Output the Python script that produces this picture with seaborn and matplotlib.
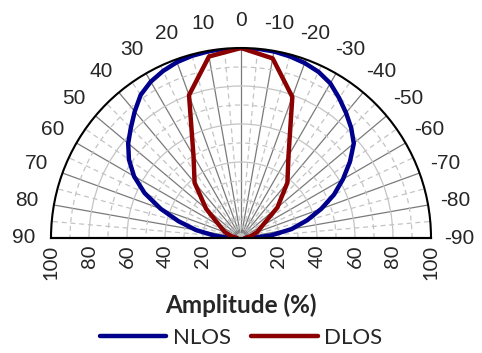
import numpy as np
import matplotlib
matplotlib.use("Agg")
import matplotlib.pyplot as plt
import seaborn as sns
from matplotlib.ticker import FixedLocator
from matplotlib.lines import Line2D

# angle in degrees (positive = left of vertical), amplitude in %
nlos_angle = [90, 85, 80, 75, 70, 65, 60, 55, 50, 45, 40, 35, 30, 25, 20, 15, 10, 5, 0,
              -5, -10, -15, -20, -25, -30, -35, -40, -45, -50, -55, -60, -65, -70, -75, -80, -85, -90]
nlos_amp = [6, 14, 24, 34, 45, 56, 65, 72, 77.5, 82, 87, 92, 95, 97, 98.5, 99.3, 99.7, 100, 100,
            100, 99.7, 99, 98, 96.5, 94, 90, 86, 82, 77.5, 70, 62, 54, 45, 36, 27, 16, 6]

dlos_angle = [90, 80, 70, 60, 50, 40, 30, 20, 10, 0, -10, -20, -30, -40, -50, -60, -70, -80, -90]
dlos_amp = [2, 5, 9, 13, 24, 38, 50, 80, 97, 100, 96, 79, 50, 38, 25, 13, 9, 5, 2]

theta_ticks = list(range(-90, 91, 10))
theta_labels = [str(t) for t in theta_ticks]
amp_ticks = list(range(-100, 101, 20))
amp_labels = [str(abs(v)) for v in amp_ticks]

sns.set_style("white")
plt.rcParams["font.family"] = ["Liberation Sans", "DejaVu Sans"]

W, H = 482, 353
cx, cy, R = 241, 238, 190  # pixel centre and radius of the half disc

fig = plt.figure(figsize=(W / 100, H / 100), dpi=100)
# polar axes keeps a square box; the half disc sits in its middle
ax = fig.add_axes([(cx - R) / W, (H - (cy - R / 2) - R) / H, 2 * R / W, 2 * R / H],
                  projection="polar")
ax.set_theta_zero_location("N")
ax.set_theta_direction(1)
ax.set_thetamin(-90)
ax.set_thetamax(90)

sns.lineplot(x=np.deg2rad(nlos_angle), y=nlos_amp, ax=ax, sort=False,
             color="#00008c", linewidth=3.2, legend=False)
sns.lineplot(x=np.deg2rad(dlos_angle), y=dlos_amp, ax=ax, sort=False,
             color="#8b0000", linewidth=3.2, legend=False)
ax.set_rlim(0, 100)

# grids
ax.set_xticks(np.deg2rad(theta_ticks))
ax.set_xticklabels(theta_labels)
ax.xaxis.set_minor_locator(FixedLocator(np.deg2rad(np.arange(-85, 90, 10))))
ax.set_yticks([20, 40, 60, 80, 100])
ax.set_yticks([10, 30, 50, 70, 90], minor=True)
ax.set_yticklabels([])
ax.grid(which="major", axis="x", color="#7a7a7a", lw=0.9, ls="-")
ax.grid(which="minor", axis="x", color="#c4c4c4", lw=0.9, ls=(0, (4, 3)))
ax.grid(which="major", axis="y", color="#c4c4c4", lw=0.9, ls="-")
ax.grid(which="minor", axis="y", color="#c4c4c4", lw=0.9, ls=(0, (4, 3)))
ax.tick_params(axis="x", which="major", direction="in", length=7, width=1.3,
               color="black", pad=13, labelsize=15)
ax.tick_params(axis="x", which="minor", direction="in", length=4, width=1.3, color="black")
ax.tick_params(axis="y", which="both", length=0)
for s in ax.spines.values():
    s.set_color("black")
    s.set_linewidth(1.5)

# flat amplitude scale along the base
bax = fig.add_axes([(cx - R) / W, (H - cy) / H, 2 * R / W, 0.0001])
bax.patch.set_alpha(0)
bax.set_xlim(-100, 100)
bax.set_yticks([])
for side in ["left", "right", "top"]:
    bax.spines[side].set_visible(False)
bax.spines["bottom"].set_color("black")
bax.spines["bottom"].set_linewidth(1.5)
bax.set_xticks(amp_ticks)
bax.set_xticklabels(amp_labels, rotation=90, family="Lato", fontsize=14.5)
bax.set_xticks(range(-90, 100, 20), minor=True)
bax.tick_params(axis="x", which="major", direction="in", length=5, width=1.3, pad=5)
bax.tick_params(axis="x", which="minor", direction="in", length=3, width=1.3)

fig.text(0.5, (H - 305) / H, "Amplitude (%)", ha="center", va="center",
         family="Lato", fontweight="bold", fontsize=17.5)

handles = [Line2D([], [], color="#00008c", lw=3.2), Line2D([], [], color="#8b0000", lw=3.2)]
fig.legend(handles, ["NLOS", "DLOS"], loc="center", bbox_to_anchor=(0.5, (H - 338) / H),
           ncol=2, frameon=False, prop={"family": "Lato", "size": 16},
           handlelength=3, handletextpad=0.3, columnspacing=0.9)

fig.savefig("out.png", dpi=100)
